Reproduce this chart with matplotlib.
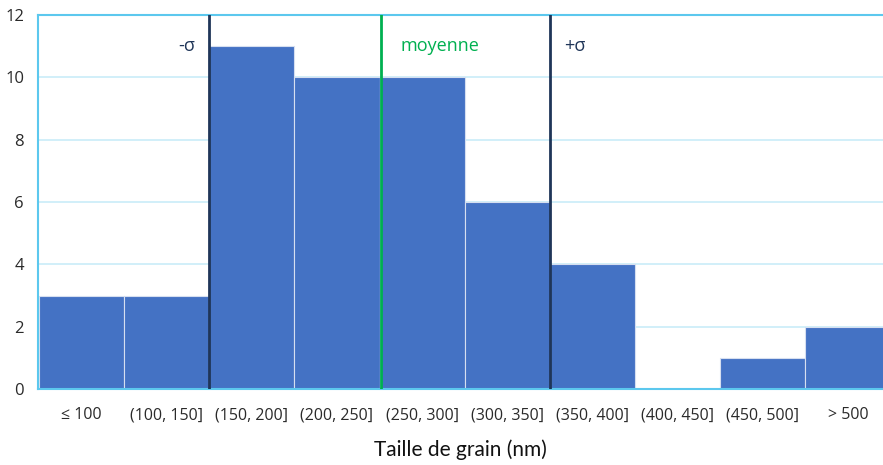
import numpy as np
import matplotlib
matplotlib.use("Agg")
import matplotlib.pyplot as plt

# grain size histogram (counts per 50 nm bin)
bins = ["≤ 100", "(100, 150]", "(150, 200]", "(200, 250]", "(250, 300]",
        "(300, 350]", "(350, 400]", "(400, 450]", "(450, 500]", "> 500"]
counts = [3, 3, 11, 10, 10, 6, 4, 0, 1, 2]

# reference lines, in nm
mean_nm = 251
sigma_lo_nm = 150
sigma_hi_nm = 350

BAR = "#4472c4"
NAVY = "#1f3558"
GREEN = "#00b050"
GRID = "#c9ecf8"
SPINE = "#5cc8ee"


def nm_to_x(v):
    # bin 1 spans (100, 150] -> centred on x=1
    return 0.5 + (v - 100) / 50.0


plt.rcParams["font.family"] = ["Open Sans", "DejaVu Sans"]

fig = plt.figure(figsize=(8.83, 4.65), dpi=100)
ax = fig.add_axes([38 / 883, 1 - 389 / 465, 1 - 38 / 883, (389 - 15) / 465])

x = np.arange(len(bins))
ax.bar(x, counts, width=1.0, color=BAR, edgecolor="#d6dff0", linewidth=0.8, zorder=2)

# last bin runs off the right edge
ax.set_xlim(-0.51, 9.41)
ax.set_ylim(0, 12)
ax.set_yticks(range(0, 13, 2))
ax.set_xticks(x)
ax.set_xticklabels(bins, fontsize=11.5, color="#2a2a2a")
ax.tick_params(axis="y", labelsize=12, colors="#2a2a2a", length=0, pad=10)
ax.tick_params(axis="x", length=0, pad=13)

ax.grid(axis="y", color=GRID, linewidth=1.2, zorder=0)
for side in ["left", "bottom", "top"]:
    ax.spines[side].set_color(SPINE)
    ax.spines[side].set_linewidth(1.5)
ax.spines["right"].set_visible(False)

ax.axvline(nm_to_x(sigma_lo_nm), color=NAVY, linewidth=2, zorder=3)
ax.axvline(nm_to_x(sigma_hi_nm), color=NAVY, linewidth=2, zorder=3)
ax.axvline(nm_to_x(mean_nm), color=GREEN, linewidth=2, zorder=3)

ax.text(nm_to_x(sigma_lo_nm) - 0.17, 11.0, "-σ", color=NAVY, fontsize=13,
        ha="right", va="center")
ax.text(nm_to_x(mean_nm) + 0.22, 11.0, "moyenne", color=GREEN, fontsize=13,
        ha="left", va="center")
ax.text(nm_to_x(sigma_hi_nm) + 0.17, 11.0, "+σ", color=NAVY, fontsize=13,
        ha="left", va="center")

ax.set_xlabel("Taille de grain (nm)", fontsize=15, color="#111111", labelpad=12,
              family=["Lato", "DejaVu Sans"])

fig.savefig("out.png", dpi=100)
